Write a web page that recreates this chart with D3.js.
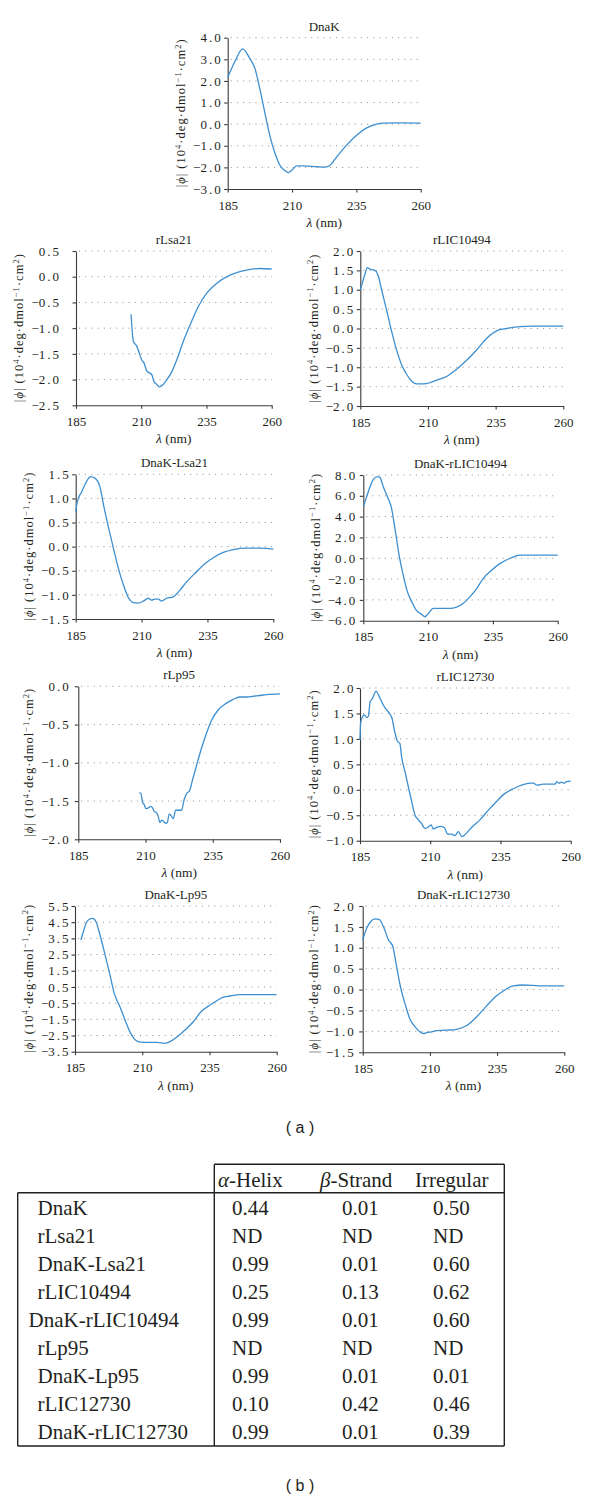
<!DOCTYPE html>
<html><head><meta charset="utf-8">
<script src="https://cdn.jsdelivr.net/npm/d3@7"></script>
<style>body{margin:0;background:#fff}</style>
</head><body>
<svg id="c" width="600" height="1498" xmlns="http://www.w3.org/2000/svg"></svg>
<script>
// ---------------- DATA ----------------
const xTickValues = [185, 210, 235, 260];
const panelTitles = ["DnaK","rLsa21","rLIC10494","DnaK-Lsa21","DnaK-rLIC10494","rLp95","rLIC12730","DnaK-Lp95","DnaK-rLIC12730"];

const yTicksDnaK = [-3, -2, -1, 0, 1, 2, 3, 4];
const yTicksLsa21 = [-2.5, -2, -1.5, -1, -0.5, 0, 0.5];
const yTicksLIC10494 = [-2, -1.5, -1, -0.5, 0, 0.5, 1, 1.5, 2];
const yTicksDnaKLsa21 = [-1.5, -1, -0.5, 0, 0.5, 1, 1.5];
const yTicksDnaKLIC10494 = [-6, -4, -2, 0, 2, 4, 6, 8];
const yTicksLp95 = [-2, -1.5, -1, -0.5, 0];
const yTicksLIC12730 = [-1, -0.5, 0, 0.5, 1, 1.5, 2];
const yTicksDnaKLp95 = [-3.5, -2.5, -1.5, -0.5, 0.5, 1.5, 2.5, 3.5, 4.5, 5.5];
const yTicksDnaKLIC12730 = [-1.5, -1, -0.5, 0, 0.5, 1, 1.5, 2];

const dnakL = [185,187.85,190.8,193.4,195.6,197.6,199.5,201.5,203.4,205.3,207.3,208.6,209.9,211.8,214.4,219.6,222.8,224.8,227.4,231.2,235.1,239.0,242.9,245.5,252,260];
const dnakV = [2.16,2.91,3.48,3.08,2.57,1.57,0.49,-0.59,-1.36,-1.90,-2.16,-2.24,-2.13,-1.93,-1.93,-1.97,-1.99,-1.90,-1.51,-0.97,-0.51,-0.17,0.0,0.05,0.06,0.05];

const lsa21L = [206.1,207.0,208.2,209.3,210.2,211.1,212.1,213.1,214.0,214.9,215.9,216.9,218.5,219.7,221.7,223.6,226.1,228.7,231.9,235.1,238.9,244.0,250.4,255.5,260];
const lsa21V = [-0.73,-1.26,-1.34,-1.49,-1.62,-1.68,-1.83,-1.87,-1.90,-2.04,-2.09,-2.14,-2.09,-2.01,-1.85,-1.62,-1.26,-0.94,-0.58,-0.32,-0.13,0.03,0.13,0.16,0.15];

const lic10494L = [185,185.9,186.7,187.6,188.6,189.8,190.8,191.7,192.9,194.7,196.6,198.4,200.3,202.1,204.0,205.8,208.3,210.7,213.2,216.9,220.6,224.3,227.9,231.7,235.4,239.1,244.0,248.9,260];
const lic10494V = [0.99,1.21,1.40,1.57,1.53,1.51,1.48,1.34,0.99,0.48,-0.08,-0.55,-0.94,-1.18,-1.36,-1.43,-1.43,-1.40,-1.33,-1.24,-1.05,-0.82,-0.56,-0.25,-0.06,0.0,0.05,0.06,0.06];

const dnakLsa21L = [185,185.6,187.3,188.9,190.7,192.3,194.2,195.7,197.4,199.3,201.2,203.1,205.0,206.9,208.8,210.7,212.6,213.8,215.1,216.4,217.6,219.5,222.0,224.6,227.1,230.9,234.1,237.2,241.0,244.8,249.9,254.9,260];
const dnakLsa21V = [0.73,0.93,1.14,1.33,1.45,1.42,1.24,0.83,0.41,-0.03,-0.45,-0.79,-1.06,-1.16,-1.17,-1.13,-1.07,-1.11,-1.09,-1.09,-1.13,-1.07,-1.04,-0.90,-0.73,-0.52,-0.35,-0.23,-0.12,-0.06,-0.03,-0.03,-0.05];

const dnakLic10494L = [185,186.3,187.6,188.9,190.4,191.4,192.7,194.3,195.9,197.2,198.8,200.4,202.0,203.7,205.6,207.5,208.8,210.1,212.0,214.6,218.5,221.0,223.6,226.2,228.8,231.3,234.6,237.8,241.7,245.5,250.6,260];
const dnakLic10494V = [4.96,5.92,6.88,7.58,7.84,7.78,6.88,5.92,4.80,2.88,0.31,-1.61,-3.21,-4.17,-5.04,-5.39,-5.62,-5.30,-4.82,-4.82,-4.82,-4.69,-4.33,-3.69,-2.89,-1.93,-1.13,-0.49,0.0,0.31,0.31,0.31];

const lp95L = [207.7,208.3,208.9,209.4,210.2,211.0,211.9,212.6,213.3,214.1,214.7,215.4,216.0,216.6,217.5,218.1,218.8,219.5,220.3,221.2,222.2,223.4,224.3,225.3,226.3,227.5,229.0,230.8,232.7,234.6,237.0,240.1,242.6,245.1,247.6,250.1,252.5,255.0,260];
const lp95V = [-1.39,-1.40,-1.52,-1.54,-1.60,-1.59,-1.57,-1.59,-1.64,-1.65,-1.70,-1.78,-1.75,-1.76,-1.79,-1.78,-1.67,-1.69,-1.73,-1.62,-1.62,-1.62,-1.49,-1.40,-1.37,-1.22,-1.03,-0.81,-0.61,-0.44,-0.31,-0.22,-0.17,-0.14,-0.14,-0.13,-0.12,-0.11,-0.10];

const lic12730L = [185,185.2,185.9,186.5,187.4,188.0,188.6,189.5,190.7,192.1,193.9,195.1,196.3,197.5,198.3,199.2,199.8,201.0,202.2,203.4,204.6,205.8,206.9,208.1,209.1,210.3,211.1,212.3,213.5,215.0,216.2,217.6,218.8,220.0,221.2,222.4,224.7,227.7,230.7,233.6,236.6,239.6,242.5,245.5,246.7,248.1,250.2,252.6,254.4,255.0,255.8,256.8,257.6,258.5,260];
const lic12730V = [0.98,1.30,1.44,1.47,1.42,1.45,1.73,1.80,1.94,1.80,1.61,1.53,1.42,1.11,0.96,0.91,0.65,0.36,0.06,-0.23,-0.50,-0.59,-0.66,-0.76,-0.74,-0.69,-0.77,-0.74,-0.72,-0.74,-0.87,-0.87,-0.90,-0.82,-0.92,-0.88,-0.74,-0.59,-0.40,-0.23,-0.07,0.02,0.09,0.13,0.13,0.09,0.11,0.11,0.11,0.16,0.13,0.15,0.13,0.16,0.17];

const dnakLp95L = [187.2,188.1,189.1,190.3,191.6,192.8,194.3,196.2,198.0,199.6,201.7,203.6,205.4,206.9,208.5,210.4,212.9,215.4,218.5,220.3,222.8,225.9,229.0,232.1,235.2,237.7,239.9,242.6,246.3,252.5,260];
const dnakLp95V = [3.40,3.91,4.43,4.68,4.74,4.53,3.71,2.47,1.24,0.10,-0.72,-1.54,-2.26,-2.68,-2.88,-2.92,-2.92,-2.92,-2.98,-2.88,-2.61,-2.16,-1.65,-0.99,-0.62,-0.35,-0.14,-0.06,0.02,0.02,0.02];

const dnakLic12730L = [185,186.5,188.0,189.6,191.1,192.7,194.5,196.2,197.4,198.9,200.7,202.6,204.5,206.3,207.6,208.8,210.7,212.5,216.2,220.0,223.7,227.4,231.1,234.8,237.9,241.0,244.7,250.9,260];
const dnakLic12730V = [1.19,1.47,1.63,1.69,1.68,1.51,1.20,1.03,0.63,0.11,-0.33,-0.71,-0.89,-1.01,-1.05,-1.03,-1.01,-0.98,-0.97,-0.95,-0.86,-0.65,-0.39,-0.15,-0.01,0.09,0.11,0.09,0.09];

// table (b)
const tableSamples = ["DnaK","rLsa21","DnaK-Lsa21","rLIC10494","DnaK-rLIC10494","rLp95","DnaK-Lp95","rLIC12730","DnaK-rLIC12730"];
const helixValues = ["0.44","ND","0.99","0.25","0.99","ND","0.99","0.10","0.99"];
const strandValues = ["0.01","ND","0.01","0.13","0.01","ND","0.01","0.42","0.01"];
const irregularValues = ["0.50","ND","0.60","0.62","0.60","ND","0.01","0.46","0.39"];

// ---------------- FONT PICK ----------------
function pickFont(cands, fallback) {
  const cv = document.createElement("canvas").getContext("2d");
  const probe = "DnaK-rLIC 0.123 ABCmwi";
  const widthOf = f => { cv.font = "40px " + f; return cv.measureText(probe).width; };
  const base1 = widthOf("monospace"), base2 = widthOf("sans-serif");
  for (const c of cands) {
    const w1 = widthOf(`"${c}", monospace`), w2 = widthOf(`"${c}", sans-serif`);
    if (Math.abs(w1 - base1) > 0.5 || Math.abs(w2 - base2) > 0.5) return `"${c}"`;
  }
  return fallback;
}
const SERIF = pickFont(["Liberation Serif", "Tinos", "DejaVu Serif", "Noto Serif", "FreeSerif", "Times New Roman", "Times"], "serif") + ", serif";
const SANS = "'Liberation Sans', Arial, sans-serif";

// ---------------- LAYOUT ----------------
const layout = [
  {l:227.7, r:420.7, t:37.7,  b:189,    pad:3.5},
  {l:76,    r:271.7, t:251,   b:405.3,  pad:13.5},
  {l:360.3, r:563.3, t:251,   b:406,    pad:3.5},
  {l:75.7,  r:273.3, t:474.3, b:619,    pad:3.5},
  {l:363.3, r:557.7, t:475,   b:620.7,  pad:4.5},
  {l:78.3,  r:280,   t:686.3, b:839.3,  pad:6},
  {l:360,   r:570.7, t:688,   b:840.7,  pad:3},
  {l:75,    r:276.7, t:906,   b:1051.7, pad:3},
  {l:362.7, r:564.3, t:906,   b:1052.3, pad:5.5}
];
const series = [
  [dnakL, dnakV, yTicksDnaK],
  [lsa21L, lsa21V, yTicksLsa21],
  [lic10494L, lic10494V, yTicksLIC10494],
  [dnakLsa21L, dnakLsa21V, yTicksDnaKLsa21],
  [dnakLic10494L, dnakLic10494V, yTicksDnaKLIC10494],
  [lp95L, lp95V, yTicksLp95],
  [lic12730L, lic12730V, yTicksLIC12730],
  [dnakLp95L, dnakLp95V, yTicksDnaKLp95],
  [dnakLic12730L, dnakLic12730V, yTicksDnaKLIC12730]
];

const INK = "#231f20";
const AXIS = "#3a3a3a";
const BLUE = "#3d8fd0";
const svg = d3.select("#c");
const fmt = d3.format(".1f");

series.forEach(([L, V, yt], i) => {
  const p = layout[i];
  const x = d3.scaleLinear().domain([185, 260]).range([p.l, p.r]);
  const y = d3.scaleLinear().domain([d3.min(yt), d3.max(yt)]).range([p.b, p.t]);
  const g = svg.append("g");

  // dotted grid
  g.selectAll("line.grid").data(yt.filter(v => v !== d3.min(yt))).join("line")
    .attr("x1", p.l + 3).attr("x2", p.r)
    .attr("y1", d => y(d)).attr("y2", d => y(d))
    .attr("stroke", "#8c8c8c").attr("stroke-width", 1)
    .attr("stroke-dasharray", "1,5.2");

  // y axis
  const ya = g.append("g").attr("transform", `translate(${p.l},0)`)
    .call(d3.axisLeft(y).tickValues(yt).tickSize(3.5).tickSizeOuter(0).tickPadding(p.pad).tickFormat(fmt));
  // x axis
  const xa = g.append("g").attr("transform", `translate(0,${p.b})`)
    .call(d3.axisBottom(x).tickValues(xTickValues).tickSize(3.5).tickSizeOuter(0).tickPadding(8).tickFormat(d3.format("d")));
  [ya, xa].forEach(a => {
    a.select(".domain").attr("stroke", AXIS).attr("stroke-width", 1.1);
    a.selectAll(".tick line").attr("stroke", AXIS).attr("stroke-width", 1.1);
    a.selectAll("text").attr("fill", INK).style("font-family", SERIF).style("font-size", "13px");
  });
  ya.selectAll(".tick text").each(function(d) {
    const parts = fmt(d).split(".");
    const t = d3.select(this).text(null);
    t.append("tspan").text(parts[0]);
    t.append("tspan").attr("dx", 2).text(".");
    t.append("tspan").attr("dx", 2).text(parts[1]);
  });

  // curve
  const pts = L.map((d, k) => [d, V[k]]);
  g.append("path").datum(pts)
    .attr("fill", "none").attr("stroke", BLUE).attr("stroke-width", 1.3)
    .attr("stroke-linejoin", "round")
    .attr("d", d3.line().x(d => x(d[0])).y(d => y(d[1])).curve(d3.curveMonotoneX));

  const cx = (p.l + p.r) / 2;
  // title
  g.append("text").attr("x", cx).attr("y", p.t - 7)
    .attr("text-anchor", "middle").attr("fill", INK)
    .style("font-family", SERIF).style("font-size", "13px").text(panelTitles[i]);
  // x label
  const xl = g.append("text").attr("x", cx).attr("y", p.b + 38)
    .attr("text-anchor", "middle").attr("fill", INK)
    .style("font-family", SERIF).style("font-size", "13.5px");
  xl.append("tspan").style("font-style", "italic").text("λ");
  xl.append("tspan").text(" (nm)");

  // y label
  const bb = ya.node().getBBox();
  const yx = p.l + bb.x - 8;
  const yy = (p.t + p.b) / 2;
  const yl = g.append("text").attr("transform", `translate(${yx},${yy}) rotate(-90)`)
    .attr("text-anchor", "middle").attr("fill", INK)
    .attr("textLength", 148).attr("lengthAdjust", "spacing")
    .style("font-family", SERIF).style("font-size", "12.5px");
  yl.append("tspan").text("|");
  yl.append("tspan").style("font-style", "italic").text("ϕ");
  yl.append("tspan").text("| (10");
  yl.append("tspan").attr("dy", -4.5).style("font-size", "8.5px").text("4");
  yl.append("tspan").attr("dy", 4.5).text("·deg·dmol");
  yl.append("tspan").attr("dy", -4.5).style("font-size", "8.5px").text("−1");
  yl.append("tspan").attr("dy", 4.5).text("·cm");
  yl.append("tspan").attr("dy", -4.5).style("font-size", "8.5px").text("2");
  yl.append("tspan").attr("dy", 4.5).text(")");
});

// (a) label
svg.append("text").attr("x", 300).attr("y", 1133).attr("text-anchor", "middle")
  .attr("fill", INK).style("font-family", SANS).style("font-size", "16px")
  .style("white-space", "pre").text("( a )");

// ---------------- TABLE ----------------
const tb = {left: 17.7, mid: 214.3, right: 504.3, top: 1164.3, head: 1192.7, bottom: 1446};
const tg = svg.append("g");
function ln(x1, y1, x2, y2) {
  tg.append("line").attr("x1", x1).attr("y1", y1).attr("x2", x2).attr("y2", y2)
    .attr("stroke", INK).attr("stroke-width", 1.4);
}
ln(tb.mid, tb.top, tb.right, tb.top);
ln(tb.left, tb.head, tb.right, tb.head);
ln(tb.left, tb.bottom, tb.right, tb.bottom);
ln(tb.left, tb.head, tb.left, tb.bottom);
ln(tb.mid, tb.top, tb.mid, tb.bottom);
ln(tb.right, tb.top, tb.right, tb.bottom);

const rowY = d3.scaleLinear().domain([0, tableSamples.length - 1]).range([1215, 1439]);
const colX = [232, 342, 433];
const headerX = [218, 320, 415];
const headers = [["α", "-Helix"], ["β", "-Strand"], ["", "Irregular"]];
headers.forEach((h, j) => {
  const t = tg.append("text").attr("x", headerX[j]).attr("y", 1186.5).attr("fill", INK)
    .style("font-family", SERIF).style("font-size", "21px");
  if (h[0]) t.append("tspan").style("font-style", "italic").text(h[0]);
  t.append("tspan").text(h[1]);
});
tableSamples.forEach((s, i) => {
  tg.append("text").attr("x", s === "DnaK-rLIC10494" ? 28.5 : 37.5).attr("y", rowY(i)).attr("fill", INK)
    .style("font-family", SERIF).style("font-size", "21px").text(s);
  [helixValues, strandValues, irregularValues].forEach((col, j) => {
    tg.append("text").attr("x", colX[j]).attr("y", rowY(i)).attr("fill", INK)
      .style("font-family", SERIF).style("font-size", "21px").text(col[i]);
  });
});

svg.append("text").attr("x", 300).attr("y", 1491).attr("text-anchor", "middle")
  .attr("fill", INK).style("font-family", SANS).style("font-size", "16px")
  .style("white-space", "pre").text("( b )");
</script>
</body></html>
